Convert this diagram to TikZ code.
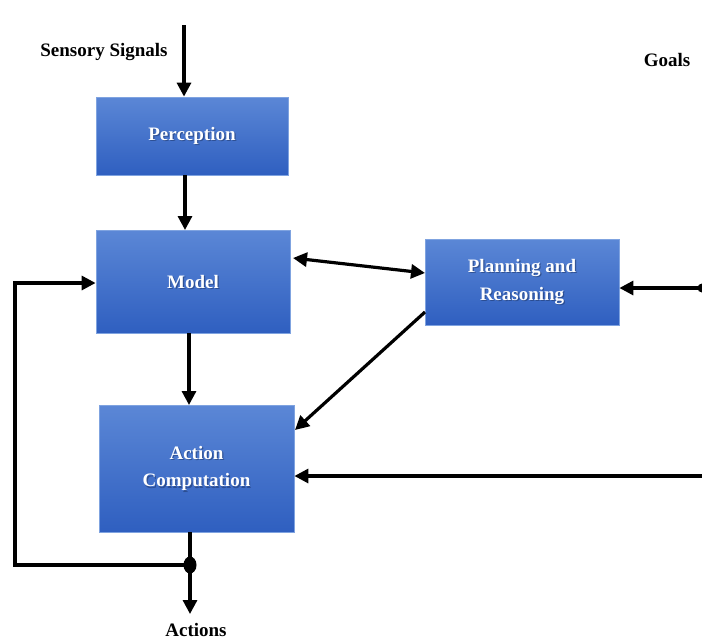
\documentclass[tikz,border=0pt]{standalone}
\usepackage{fontspec}
\setmainfont{Liberation Serif}
\usetikzlibrary{arrows.meta}
\definecolor{boxtop}{HTML}{5B87D6}
\definecolor{boxbot}{HTML}{2F5FC0}
\definecolor{boxedge}{HTML}{7FA3E0}
\definecolor{txtshade}{HTML}{203A70}
\tikzset{
  blk/.style={draw=boxedge, line width=0.8pt, top color=boxtop, bottom color=boxbot,
    minimum width=#1, inner sep=0pt},
  blktext/.style={align=center, inner sep=0pt,
    font=\fontsize{19}{27.5}\selectfont\bfseries, text=white},
  blkshade/.style={blktext, text=txtshade, opacity=0.6},
  wire/.style={line width=3.2pt, -{Triangle[length=14pt,width=14pt]}},
  dwire/.style={line width=3.2pt, {Triangle[length=14pt,width=14pt]}-{Triangle[length=14pt,width=14pt]}},
  plain/.style={line width=3.2pt},
  lbl/.style={font=\fontsize{19}{22}\selectfont\bfseries, text=black}
}
% a block with shaded white caption
\newcommand{\procblock}[5]{%
  \node[blk=#3, minimum height=#4] (#1) at #2 {};
  \node[blkshade] at ([shift={(1.2,1.2)}]#1.center) {#5};
  \node[blktext] (#1-txt) at (#1.center) {#5};
}
\begin{document}
\begin{tikzpicture}[x=1pt,y=-1pt]
\useasboundingbox (0,0) rectangle (702,641);
% processing blocks
\procblock{perc}{(192,136)}{192pt}{78pt}{Perception}
\procblock{model}{(193,281.5)}{194pt}{103pt}{Model}
\procblock{plan}{(522,282)}{194pt}{86pt}{Planning and\\Reasoning}
\procblock{act}{(196.5,468.5)}{195pt}{127pt}{Action\\Computation}
% labels
\node[lbl] (sens) at (104,52) {Sensory Signals};
\node[lbl] (goals) at (667,60) {Goals};
\node[lbl] (acts) at (196,630) {Actions};
% free ends and junction
\coordinate (sin) at (184,25);
\coordinate (gin) at (702,288);
\coordinate (cin) at (702,476);
\coordinate (junc) at (190,565);
\coordinate (aout) at (190,614);
\coordinate (fbl) at (15,565);
\coordinate (fbt) at (15,283);
% connectors
\draw[wire] (sin) -- (sin |- perc.north);
\draw[wire] (185,175) -- (185,230);
\draw[dwire] (293,258) -- (425,273);
\draw[wire] (425,312) -- (295,430);
\draw[wire] (189,333) -- (189,405);
\draw[wire] (gin) -- (plan.east |- gin);
\fill (gin) circle (4.5pt);
\draw[wire] (cin) -- (act.east |- cin);
\draw[plain] (190,532) -- (junc);
\draw[wire] (junc) -- (aout);
\fill (junc) ellipse (6.5pt and 8.5pt);
\draw[wire] (junc) -- (fbl) -- (fbt) -- (model.west |- fbt);
\end{tikzpicture}
\end{document}
